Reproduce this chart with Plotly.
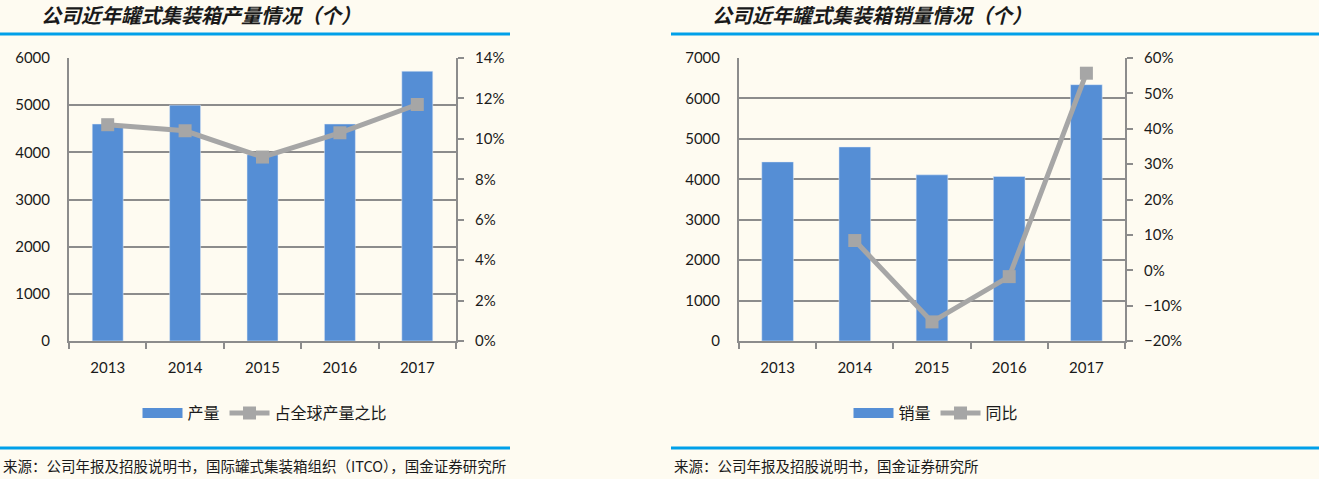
import plotly.graph_objects as go

W, H = 1319, 479

years = ["2013", "2014", "2015", "2016", "2017"]

# left chart: output and share of global output
output = [4600, 5000, 3950, 4600, 5720]
global_share = [0.107, 0.104, 0.091, 0.103, 0.117]

# right chart: sales and yoy growth
sales = [4430, 4800, 4110, 4070, 6340]
sales_yoy = [None, 0.084, -0.146, -0.018, 0.557]

BLUE = "#558ed5"
GREY = "#a6a6a6"
AXIS = "#8c8c8c"
TITLE_BLUE = "#00a0e9"
BG = "#fefbf1"
FONT = "Lato, 'Noto Sans CJK SC', sans-serif"
CJK = "'Noto Sans CJK SC', sans-serif"


def px_x(v):
    return v / W


def px_y(v):
    return 1 - v / H


fig = go.Figure()

# bars (legend entry drawn by a wide line proxy, like the excel legend swatch)
fig.add_trace(go.Bar(x=years, y=output, name="产量", marker_color=BLUE, showlegend=False,
                     width=0.4, xaxis="x", yaxis="y"))
fig.add_trace(go.Scatter(x=[None], y=[None], name="产量", mode="lines",
                         line=dict(color=BLUE, width=10), xaxis="x", yaxis="y", legend="legend"))
fig.add_trace(go.Scatter(x=years, y=global_share, name="占全球产量之比", mode="lines+markers",
                         line=dict(color=GREY, width=5),
                         marker=dict(symbol="square", size=13, color=GREY),
                         xaxis="x", yaxis="y2", legend="legend"))

fig.add_trace(go.Bar(x=years, y=sales, name="销量", marker_color=BLUE, showlegend=False,
                     width=0.41, xaxis="x2", yaxis="y3"))
fig.add_trace(go.Scatter(x=[None], y=[None], name="销量", mode="lines",
                         line=dict(color=BLUE, width=10), xaxis="x2", yaxis="y3", legend="legend2"))
fig.add_trace(go.Scatter(x=years, y=sales_yoy, name="同比", mode="lines+markers",
                         line=dict(color=GREY, width=5),
                         marker=dict(symbol="square", size=13, color=GREY),
                         xaxis="x2", yaxis="y4", legend="legend2"))

ydom = [px_y(341), px_y(58)]
tickfont = dict(family=FONT, size=15, color="#1a1a1a")

xcommon = dict(type="category", showline=True, linecolor=AXIS, linewidth=2,
               ticks="outside", tickson="boundaries", ticklen=6, tickcolor=AXIS,
               tickwidth=2, showgrid=False, tickfont=tickfont, ticklabelstandoff=12,
               automargin=False)
yleft = dict(showline=True, linecolor=AXIS, linewidth=2, showgrid=True,
             gridcolor=AXIS, gridwidth=2, ticks="", tickfont=tickfont,
             ticklabelstandoff=14, zeroline=False, automargin=False)
yright = dict(showline=True, linecolor=AXIS, linewidth=2, showgrid=False,
              ticks="outside", ticklen=6, tickcolor=AXIS, tickwidth=2,
              tickfont=tickfont, ticklabelstandoff=8, zeroline=False, side="right",
              tickformat=".0%", automargin=False)

legend_common = dict(orientation="h", xanchor="center", y=px_y(413), yanchor="middle",
                     font=dict(family=CJK, size=16, color="#1a1a1a"),
                     bgcolor="rgba(0,0,0,0)", itemwidth=40, traceorder="normal")

fig.update_layout(
    width=W, height=H,
    margin=dict(l=0, r=0, t=0, b=0, autoexpand=False),
    paper_bgcolor=BG, plot_bgcolor=BG,
    showlegend=True,
    xaxis=dict(domain=[px_x(69), px_x(456)], anchor="y", **xcommon),
    yaxis=dict(domain=ydom, range=[0, 6000], dtick=1000, anchor="x", **yleft),
    yaxis2=dict(overlaying="y", anchor="x", range=[0, 0.14], dtick=0.02, **yright),
    xaxis2=dict(domain=[px_x(739), px_x(1125)], anchor="y3", **xcommon),
    yaxis3=dict(domain=ydom, range=[0, 7000], dtick=1000, anchor="x2", **yleft),
    yaxis4=dict(overlaying="y3", anchor="x2", range=[-0.2, 0.6], dtick=0.1, **yright),
    legend=dict(x=px_x(265), **legend_common),
    legend2=dict(x=px_x(936), **legend_common),
)

# title underlines and footer lines
for x0, x1 in [(0, 510), (671, 1319)]:
    for yy in (34, 448):
        fig.add_shape(type="line", xref="paper", yref="paper",
                      x0=px_x(x0), x1=px_x(x1), y0=px_y(yy), y1=px_y(yy),
                      line=dict(color=TITLE_BLUE, width=3))

titles = [("公司近年罐式集装箱产量情况（个）", 39), ("公司近年罐式集装箱销量情况（个）", 710)]
for text, x in titles:
    fig.add_annotation(text=f"<b><i>{text}</i></b>", xref="paper", yref="paper",
                       x=px_x(x), y=px_y(15), xanchor="left", yanchor="middle", showarrow=False,
                       font=dict(family=CJK, size=20, color="#1a1a1a"))

sources = [("来源：公司年报及招股说明书，国际罐式集装箱组织（ITCO），国金证券研究所", 1),
           ("来源：公司年报及招股说明书，国金证券研究所", 672)]
for text, x in sources:
    fig.add_annotation(text=text, xref="paper", yref="paper",
                       x=px_x(x), y=px_y(465), xanchor="left", yanchor="middle", showarrow=False,
                       font=dict(family=CJK, size=14.5, color="#1a1a1a"))

fig.write_html("out.html", config={"displayModeBar": False},
               post_script="document.body.style.margin='0';")
